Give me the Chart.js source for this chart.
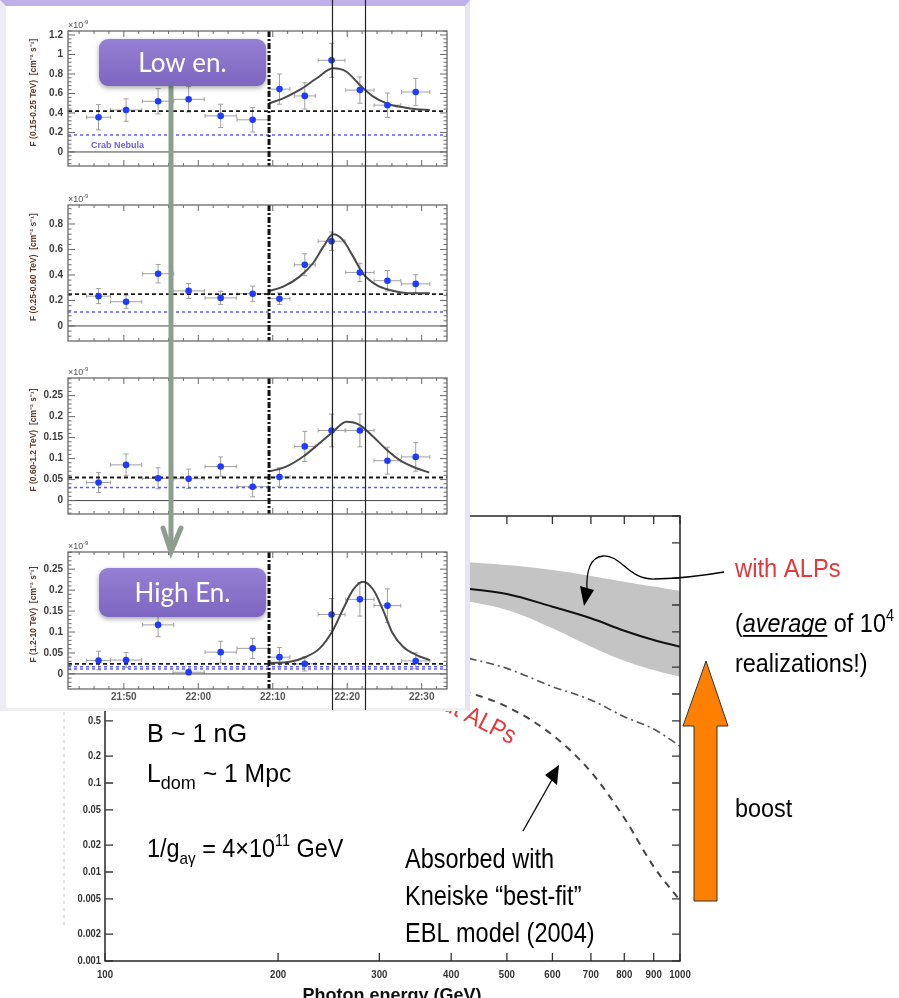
<!DOCTYPE html>
<html>
<head>
<meta charset="utf-8">
<script src="https://cdn.jsdelivr.net/npm/chart.js@4.4.0/dist/chart.umd.min.js"></script>
<style>
body { margin:0; background:#fff; width:899px; height:998px; overflow:hidden; position:relative; }
canvas { position:absolute; }
#inset { position:absolute; left:0; top:0; width:470px; height:711px; box-sizing:border-box; background:#fff;
  border-top:6px solid #bfb0e8; border-left:6px solid #eeecf4; border-right:5px solid #e8e4f4; border-bottom:3px solid #efefef; z-index:2; }
</style>
</head>
<body>
<canvas id="mainChart" width="899" height="998" style="left:0;top:0;z-index:1"></canvas>
<div id="inset"></div>
<canvas id="p1" width="470" height="180" style="left:0;top:0;z-index:3"></canvas>
<canvas id="p2" width="470" height="175" style="left:0;top:180px;z-index:3"></canvas>
<canvas id="p3" width="470" height="173" style="left:0;top:355px;z-index:3"></canvas>
<canvas id="p4" width="470" height="182" style="left:0;top:528px;z-index:3"></canvas>
<canvas id="overlay" width="470" height="712" style="left:0;top:0;z-index:5"></canvas>
<script>
// ---------- back chart: photon energy vs flux ratio (log-log) ----------
var energyGeV    = [400, 500, 600, 700, 800, 900, 1000];
var alpBandHigh  = [31, 28.1, 24.7, 21.2, 18.3, 16.1, 14.4];
var alpBandLow   = [12, 8.79, 5.47, 3.40, 2.37, 1.86, 1.56];
var alpMean      = [16, 13.3, 9.57, 7.09, 5.14, 4.04, 3.40];
var dashDotCurve = [2.8, 1.94, 1.21, 0.857, 0.556, 0.404, 0.26];
var kneiskeAbs   = [1.2, 0.72, 0.346, 0.133, 0.0404, 0.0115, 0.0048];
var energyTicks  = [100, 200, 300, 400, 500, 600, 700, 800, 900, 1000];
var ratioTicks   = [0.001, 0.002, 0.005, 0.01, 0.02, 0.05, 0.1, 0.2, 0.5, 1, 2, 5, 10, 20, 50, 100];

// ---------- inset: light curves (minutes after 21:00) ----------
var binTimes   = [46.6, 50.3, 54.6, 58.7, 63.0, 67.3, 70.9, 74.3, 77.9, 81.7, 85.4, 89.2];
var binHalf    = [1.6, 2.1, 2.1, 2.1, 2.1, 2.1, 1.4, 1.4, 1.8, 1.9, 1.8, 1.9];
var timeTicks  = [50, 60, 70, 80, 90];
var timeLabels = ["21:50", "22:00", "22:10", "22:20", "22:30"];
var flareStart = 69.5;
var markerTimes = [78.0, 82.4];

var fluxLow   = [0.356, 0.43, 0.52, 0.54, 0.37, 0.33, 0.645, 0.575, 0.94, 0.635, 0.48, 0.615];
var errLow    = [0.13, 0.115, 0.13, 0.13, 0.12, 0.125, 0.155, 0.135, 0.175, 0.135, 0.125, 0.14];
var fitLowT   = [69.5, 71.4, 73.6, 75.9, 78.1, 79.9, 81.7, 83.5, 85.5, 87.5, 89.3, 91.1];
var fitLowV   = [0.50, 0.55, 0.636, 0.756, 0.858, 0.823, 0.687, 0.567, 0.492, 0.458, 0.438, 0.431];

var fluxMid   = [0.234, 0.19, 0.41, 0.275, 0.22, 0.253, 0.214, 0.48, 0.665, 0.42, 0.355, 0.33];
var errMid    = [0.059, 0.052, 0.072, 0.059, 0.052, 0.06, 0.045, 0.086, 0.072, 0.072, 0.08, 0.072];
var fitMidT   = [69.5, 71.4, 73.6, 75.4, 76.8, 78.1, 79.4, 80.8, 82.1, 83.9, 85.7, 87.5, 89.3, 91.1];
var fitMidV   = [0.275, 0.308, 0.387, 0.492, 0.622, 0.719, 0.675, 0.544, 0.413, 0.322, 0.282, 0.261, 0.256, 0.256];

var fluxHigh  = [0.043, 0.085, 0.053, 0.052, 0.081, 0.033, 0.056, 0.129, 0.167, 0.167, 0.095, 0.104];
var errHigh   = [0.024, 0.026, 0.025, 0.023, 0.023, 0.024, 0.022, 0.036, 0.039, 0.039, 0.032, 0.034];
var fitHighT  = [69.5, 71.8, 74.1, 76.3, 78.1, 79.9, 81.7, 83.5, 85.3, 87.0, 89.3, 91.0];
var fitHighV  = [0.069, 0.081, 0.105, 0.137, 0.164, 0.188, 0.180, 0.152, 0.121, 0.097, 0.077, 0.067];

var fluxTop   = [0.032, 0.033, 0.117, 0.004, 0.052, 0.061, 0.040, 0.024, 0.142, 0.178, 0.163, 0.031];
var errTop    = [0.022, 0.018, 0.028, 0.006, 0.026, 0.024, 0.023, 0.017, 0.038, 0.04, 0.04, 0.019];
var fitTopT   = [69.5, 72.3, 74.5, 76.3, 78.1, 79.4, 80.8, 82.1, 83.5, 84.8, 86.1, 87.5, 89.3, 91.1];
var fitTopV   = [0.026, 0.029, 0.041, 0.061, 0.105, 0.153, 0.201, 0.220, 0.201, 0.153, 0.097, 0.065, 0.045, 0.033];

var baseLevels = [0.42, 0.25, 0.055, 0.024];
var crabLevels = [[0.174], [0.11], [0.031], [0.0174, 0.012]];

var FONT = '"Liberation Sans", Arial, sans-serif';

// draws text runs with horizontal squeeze (sub/superscripts, italics)
function drawRuns(ctx, x, y, runs, sx) {
    var cx = x;
    runs.forEach(function(r) {
        ctx.save();
        ctx.font = (r.style || "") + " " + r.size + "px " + FONT;
        ctx.fillStyle = r.color || "#000";
        ctx.translate(cx, y + (r.dy || 0));
        ctx.scale(sx, 1);
        ctx.fillText(r.t, 0, 0);
        var w = ctx.measureText(r.t).width;
        if (r.underline) ctx.fillRect(0, 3, w, 1.8);
        ctx.restore();
        cx += w * sx;
    });
}

function pts(xs, ys) { return xs.map(function(x, i) { return {x: x, y: ys[i]}; }); }

// ---------- back chart ----------
var mainPlugin = {
    id: "mainDecor",
    afterDatasetsDraw: function(chart) {
        var ctx = chart.ctx, a = chart.chartArea, xs = chart.scales.x, ys = chart.scales.y;
        ctx.save();
        ctx.strokeStyle = "#333";
        ctx.lineWidth = 1.6;
        ctx.strokeRect(a.left, a.top, a.right - a.left, a.bottom - a.top);
        ctx.lineWidth = 1.3;
        energyTicks.forEach(function(e) {
            var px = xs.getPixelForValue(e);
            ctx.beginPath();
            ctx.moveTo(px, a.bottom); ctx.lineTo(px, a.bottom - 8);
            ctx.moveTo(px, a.top); ctx.lineTo(px, a.top + 8);
            ctx.stroke();
            ctx.save();
            ctx.font = "bold 11px " + FONT;
            ctx.fillStyle = "#333";
            ctx.textAlign = "center";
            ctx.translate(px, a.bottom + 17);
            ctx.scale(0.88, 1);
            ctx.fillText(String(e), 0, 0);
            ctx.restore();
        });
        ratioTicks.forEach(function(v) {
            var py = ys.getPixelForValue(v);
            ctx.beginPath();
            ctx.moveTo(a.left, py); ctx.lineTo(a.left + 8, py);
            ctx.moveTo(a.right, py); ctx.lineTo(a.right - 8, py);
            ctx.stroke();
            ctx.save();
            ctx.font = "bold 11px " + FONT;
            ctx.fillStyle = "#333";
            ctx.textAlign = "right";
            ctx.textBaseline = "middle";
            ctx.translate(a.left - 4, py);
            ctx.scale(0.85, 1);
            ctx.fillText(String(v), 0, 0);
            ctx.restore();
        });
        ctx.restore();
    },
    afterDraw: function(chart) {
        var ctx = chart.ctx;
        ctx.save();
        // clipped left edge
        ctx.fillStyle = "#fff";
        ctx.fillRect(0, 712, 72, 235);
        ctx.strokeStyle = "#c8c8c8";
        ctx.setLineDash([3, 4]);
        ctx.beginPath(); ctx.moveTo(64, 712); ctx.lineTo(64, 925); ctx.stroke();
        ctx.setLineDash([]);

        // axis title (cut by the page bottom)
        ctx.font = "bold 18px " + FONT;
        ctx.fillStyle = "#111";
        ctx.textAlign = "center";
        ctx.fillText("Photon energy (GeV)", 392, 1001);
        ctx.textAlign = "left";

        ctx.font = "26px " + FONT;
        ctx.fillText(")", 462, 500);

        // parameter text
        drawRuns(ctx, 147, 742, [{t: "B ~ 1 nG", size: 26}], 0.97);
        drawRuns(ctx, 147, 782, [{t: "L", size: 26}, {t: "dom", size: 19, dy: 7}, {t: " ~ 1 Mpc", size: 26}], 0.95);
        drawRuns(ctx, 147, 857, [{t: "1/g", size: 26}, {t: "a\u03b3", size: 17, dy: 7}, {t: " = 4\u00d710", size: 26},
            {t: "11", size: 16, dy: -11}, {t: " GeV", size: 26}], 0.9);

        drawRuns(ctx, 405, 868, [{t: "Absorbed with", size: 28}], 0.84);
        drawRuns(ctx, 405, 905, [{t: "Kneiske \u201cbest-fit\u201d", size: 28}], 0.84);
        drawRuns(ctx, 405, 942, [{t: "EBL model (2004)", size: 28}], 0.84);

        drawRuns(ctx, 735, 577, [{t: "with ALPs", size: 25, color: "#e5383b"}], 0.95);
        drawRuns(ctx, 735, 632, [{t: "(", size: 26}, {t: "average", size: 26, style: "italic", underline: true},
            {t: " of 10", size: 26}, {t: "4", size: 16, dy: -11}], 0.9);
        drawRuns(ctx, 735, 672, [{t: "realizations!)", size: 26}], 0.9);
        drawRuns(ctx, 735, 817, [{t: "boost", size: 26}], 0.9);

        // rotated red label, partly hidden by the inset
        ctx.save();
        ctx.translate(394, 685);
        ctx.rotate(27 * Math.PI / 180);
        drawRuns(ctx, 0, 0, [{t: "without ALPs", size: 25, color: "#e5383b"}], 0.9);
        ctx.restore();

        // orange boost arrow
        ctx.beginPath();
        ctx.moveTo(706, 661); ctx.lineTo(728, 726); ctx.lineTo(717, 726); ctx.lineTo(717, 901);
        ctx.lineTo(694, 901); ctx.lineTo(694, 726); ctx.lineTo(683, 726); ctx.closePath();
        ctx.fillStyle = "#ff7f00";
        ctx.fill();
        ctx.strokeStyle = "#333";
        ctx.lineWidth = 1;
        ctx.stroke();

        // curvy arrow from "with ALPs"
        ctx.strokeStyle = "#000";
        ctx.lineWidth = 1.3;
        ctx.beginPath();
        ctx.moveTo(724, 572);
        ctx.quadraticCurveTo(690, 578, 655, 579);
        ctx.bezierCurveTo(628, 580, 622, 555, 603, 556);
        ctx.bezierCurveTo(590, 557, 586, 572, 587, 590);
        ctx.stroke();
        ctx.fillStyle = "#000";
        ctx.beginPath();
        ctx.moveTo(584, 606); ctx.lineTo(580, 586); ctx.lineTo(594, 590); ctx.closePath();
        ctx.fill();

        // straight arrow to the absorbed curve
        ctx.beginPath();
        ctx.moveTo(523, 831); ctx.lineTo(553, 778); ctx.stroke();
        ctx.beginPath();
        ctx.moveTo(559, 765); ctx.lineTo(545, 775); ctx.lineTo(557, 785); ctx.closePath();
        ctx.fill();
        ctx.restore();
    }
};

new Chart(document.getElementById("mainChart"), {
    type: "line",
    data: {
        datasets: [
            {data: pts(energyGeV, alpBandHigh), borderWidth: 0, pointRadius: 0, backgroundColor: "#c4c4c4", fill: "+1", tension: 0.4, order: 10},
            {data: pts(energyGeV, alpBandLow), borderWidth: 0, pointRadius: 0, fill: false, tension: 0.4, order: 9},
            {data: pts(energyGeV, alpMean), borderColor: "#111", borderWidth: 2, pointRadius: 0, fill: false, cubicInterpolationMode: "monotone", order: 2},
            {data: pts(energyGeV, dashDotCurve), borderColor: "#555", borderWidth: 1.6, borderDash: [8, 4, 2, 4], pointRadius: 0, fill: false, cubicInterpolationMode: "monotone", order: 3},
            {data: pts(energyGeV, kneiskeAbs), borderColor: "#444", borderWidth: 2, borderDash: [7, 6], pointRadius: 0, fill: false, cubicInterpolationMode: "monotone", order: 4}
        ]
    },
    options: {
        responsive: false,
        animation: false,
        layout: {padding: {left: 105, top: 516, right: 219, bottom: 37}},
        plugins: {legend: {display: false}, tooltip: {enabled: false}},
        scales: {
            x: {type: "logarithmic", min: 100, max: 1000, display: false},
            y: {type: "logarithmic", min: 0.001, max: 100, display: false}
        }
    },
    plugins: [mainPlugin]
});

// ---------- inset panels ----------
var panelDefs = [
    {id: "p1", padTop: 31, padBottom: 14, yMin: -0.144, yMax: 1.241, step: 0.2, ticks: [0, 0.2, 0.4, 0.6, 0.8, 1, 1.2],
     flux: fluxLow, err: errLow, fitT: fitLowT, fitV: fitLowV, base: baseLevels[0], crab: crabLevels[0],
     title: "F (0.15-0.25 TeV)  [cm\u207b\u00b2 s\u207b\u00b9]", crabLabel: true},
    {id: "p2", padTop: 25, padBottom: 14, yMin: -0.118, yMax: 0.949, step: 0.2, ticks: [0, 0.2, 0.4, 0.6, 0.8],
     flux: fluxMid, err: errMid, fitT: fitMidT, fitV: fitMidV, base: baseLevels[1], crab: crabLevels[1],
     title: "F (0.25-0.60 TeV)  [cm\u207b\u00b2 s\u207b\u00b9]"},
    {id: "p3", padTop: 23, padBottom: 14, yMin: -0.032, yMax: 0.292, step: 0.05, ticks: [0, 0.05, 0.1, 0.15, 0.2, 0.25],
     flux: fluxHigh, err: errHigh, fitT: fitHighT, fitV: fitHighV, base: baseLevels[2], crab: crabLevels[2],
     title: "F (0.60-1.2 TeV)  [cm\u207b\u00b2 s\u207b\u00b9]"},
    {id: "p4", padTop: 24, padBottom: 21, yMin: -0.036, yMax: 0.291, step: 0.05, ticks: [0, 0.05, 0.1, 0.15, 0.2, 0.25],
     flux: fluxTop, err: errTop, fitT: fitTopT, fitV: fitTopV, base: baseLevels[3], crab: crabLevels[3],
     title: "F (1.2-10 TeV)  [cm\u207b\u00b2 s\u207b\u00b9]", showTime: true}
];
var X_MIN = 42.5, X_MAX = 93.4;

var panelPlugin = {
    id: "panelDecor",
    beforeDatasetsDraw: function(chart) {
        var d = chart.config.options.panel, ctx = chart.ctx, xs = chart.scales.x, ys = chart.scales.y;
        ctx.save();
        ctx.strokeStyle = "#a0a0a0";
        ctx.lineWidth = 1;
        binTimes.forEach(function(t, i) {
            var px = xs.getPixelForValue(t), py = ys.getPixelForValue(d.flux[i]);
            var y0 = ys.getPixelForValue(d.flux[i] - d.err[i]), y1 = ys.getPixelForValue(d.flux[i] + d.err[i]);
            var x0 = xs.getPixelForValue(t - binHalf[i]), x1 = xs.getPixelForValue(t + binHalf[i]);
            ctx.beginPath();
            ctx.moveTo(px, y0); ctx.lineTo(px, y1);
            ctx.moveTo(px - 2.5, y0); ctx.lineTo(px + 2.5, y0);
            ctx.moveTo(px - 2.5, y1); ctx.lineTo(px + 2.5, y1);
            ctx.moveTo(x0, py); ctx.lineTo(x1, py);
            ctx.moveTo(x0, py - 2); ctx.lineTo(x0, py + 2);
            ctx.moveTo(x1, py - 2); ctx.lineTo(x1, py + 2);
            ctx.stroke();
        });
        ctx.restore();
    },
    afterDatasetsDraw: function(chart) {
        var d = chart.config.options.panel, ctx = chart.ctx, a = chart.chartArea, xs = chart.scales.x, ys = chart.scales.y;
        ctx.save();
        // flare start marker
        var fx = xs.getPixelForValue(flareStart);
        ctx.strokeStyle = "#111";
        ctx.lineWidth = 3;
        ctx.setLineDash([6, 2, 2, 2]);
        ctx.beginPath(); ctx.moveTo(fx, a.top); ctx.lineTo(fx, a.bottom); ctx.stroke();
        ctx.setLineDash([]);

        // frame with inward ticks
        ctx.strokeStyle = "#6a6a6a";
        ctx.lineWidth = 1.3;
        ctx.strokeRect(a.left, a.top, a.right - a.left, a.bottom - a.top);
        ctx.lineWidth = 1;
        for (var t = 44; t <= 92; t += 2) {
            var px = xs.getPixelForValue(t), len = (t % 10 === 0) ? 6 : 3;
            ctx.beginPath();
            ctx.moveTo(px, a.bottom); ctx.lineTo(px, a.bottom - len);
            ctx.moveTo(px, a.top); ctx.lineTo(px, a.top + len);
            ctx.stroke();
        }
        var minor = d.step / 5;
        var k0 = Math.ceil(d.yMin / minor), k1 = Math.floor(d.yMax / minor);
        for (var k = k0; k <= k1; k++) {
            var py = ys.getPixelForValue(k * minor), ylen = (k % 5 === 0) ? 7 : 3.5;
            ctx.beginPath();
            ctx.moveTo(a.left, py); ctx.lineTo(a.left + ylen, py);
            ctx.moveTo(a.right, py); ctx.lineTo(a.right - ylen, py);
            ctx.stroke();
        }
        // y labels
        ctx.font = "bold 10px " + FONT;
        ctx.fillStyle = "#3c3c3c";
        ctx.textAlign = "right";
        ctx.textBaseline = "middle";
        d.ticks.forEach(function(v) { ctx.fillText(String(v), a.left - 5, ys.getPixelForValue(v)); });
        // x10^-9
        ctx.textAlign = "left";
        ctx.textBaseline = "alphabetic";
        ctx.font = "9px " + FONT;
        ctx.fillStyle = "#555";
        ctx.fillText("\u00d710", a.left, a.top - 3);
        ctx.font = "6px " + FONT;
        ctx.fillText("-9", a.left + 15, a.top - 7);
        // axis title
        ctx.save();
        ctx.translate(36, (a.top + a.bottom) / 2 - 6);
        ctx.rotate(-Math.PI / 2);
        ctx.font = "bold 8.5px " + FONT;
        ctx.fillStyle = "#5a3b2c";
        ctx.textAlign = "center";
        ctx.fillText(d.title, 0, 0);
        ctx.restore();
        if (d.crabLabel) {
            ctx.font = "bold 9px " + FONT;
            ctx.fillStyle = "#6f62d9";
            ctx.fillText("Crab Nebula", 91, ys.getPixelForValue(0.174) + 13);
        }
        if (d.showTime) {
            ctx.font = "bold 10px " + FONT;
            ctx.fillStyle = "#555";
            ctx.textAlign = "center";
            timeTicks.forEach(function(t, i) { ctx.fillText(timeLabels[i], xs.getPixelForValue(t), a.bottom + 11); });
        }
        ctx.restore();
    }
};

var panels = panelDefs.map(function(d) {
    var ds = [
        {data: pts(binTimes, d.flux), showLine: false, pointRadius: 3.3, pointBackgroundColor: "#1e3cff", pointBorderWidth: 0, order: 0},
        {data: pts(d.fitT, d.fitV), borderColor: "#4a4a4a", borderWidth: 2, pointRadius: 0, cubicInterpolationMode: "monotone", order: 1},
        {data: [{x: X_MIN, y: d.base}, {x: X_MAX, y: d.base}], borderColor: "#1a1a1a", borderWidth: 1.8, borderDash: [4, 3], pointRadius: 0, order: 2},
        {data: [{x: X_MIN, y: 0}, {x: X_MAX, y: 0}], borderColor: "#444", borderWidth: 1, pointRadius: 0, order: 4}
    ];
    d.crab.forEach(function(c) {
        ds.push({data: [{x: X_MIN, y: c}, {x: X_MAX, y: c}], borderColor: "#5d5dff", borderWidth: 1.5, borderDash: [3, 3], pointRadius: 0, order: 3});
    });
    return new Chart(document.getElementById(d.id), {
        type: "line",
        data: {datasets: ds},
        options: {
            responsive: false,
            animation: false,
            panel: d,
            layout: {padding: {left: 68, right: 23, top: d.padTop, bottom: d.padBottom}},
            plugins: {legend: {display: false}, tooltip: {enabled: false}},
            scales: {
                x: {type: "linear", min: X_MIN, max: X_MAX, display: false},
                y: {type: "linear", min: d.yMin, max: d.yMax, display: false}
            }
        },
        plugins: [panelPlugin]
    });
});

// ---------- overlay: labels boxes, green arrow, time markers ----------
var oc = document.getElementById("overlay").getContext("2d");

function purpleBox(x, y, w, h, label) {
    oc.save();
    oc.shadowColor = "rgba(0,0,0,0.35)";
    oc.shadowBlur = 5;
    oc.shadowOffsetY = 2;
    var g = oc.createLinearGradient(0, y, 0, y + h);
    g.addColorStop(0, "#9580d4");
    g.addColorStop(1, "#7d66c0");
    oc.fillStyle = g;
    oc.beginPath();
    oc.roundRect(x, y, w, h, 9);
    oc.fill();
    oc.restore();
    oc.save();
    oc.font = "26px Lato, 'Open Sans', sans-serif";
    oc.fillStyle = "#fff";
    oc.textAlign = "center";
    oc.textBaseline = "middle";
    oc.fillText(label, x + w / 2, y + h / 2 + 1);
    oc.restore();
}

// green arrow from low to high energy
oc.strokeStyle = "#8d9e8f";
oc.lineWidth = 5;
oc.beginPath(); oc.moveTo(171, 86); oc.lineTo(171, 550); oc.stroke();
oc.lineCap = "round";
oc.beginPath(); oc.moveTo(163, 528); oc.lineTo(171, 552); oc.lineTo(181, 528); oc.stroke();

purpleBox(99, 39, 167, 47, "Low en.");
purpleBox(99, 568, 167, 49, "High En.");

var xsRef = panels[3].scales.x;
oc.strokeStyle = "#222";
oc.lineWidth = 1.2;
oc.lineCap = "butt";
markerTimes.forEach(function(t) {
    var px = Math.round(xsRef.getPixelForValue(t)) + 0.5;
    oc.beginPath(); oc.moveTo(px, 0); oc.lineTo(px, 710); oc.stroke();
});
</script>
</body>
</html>
